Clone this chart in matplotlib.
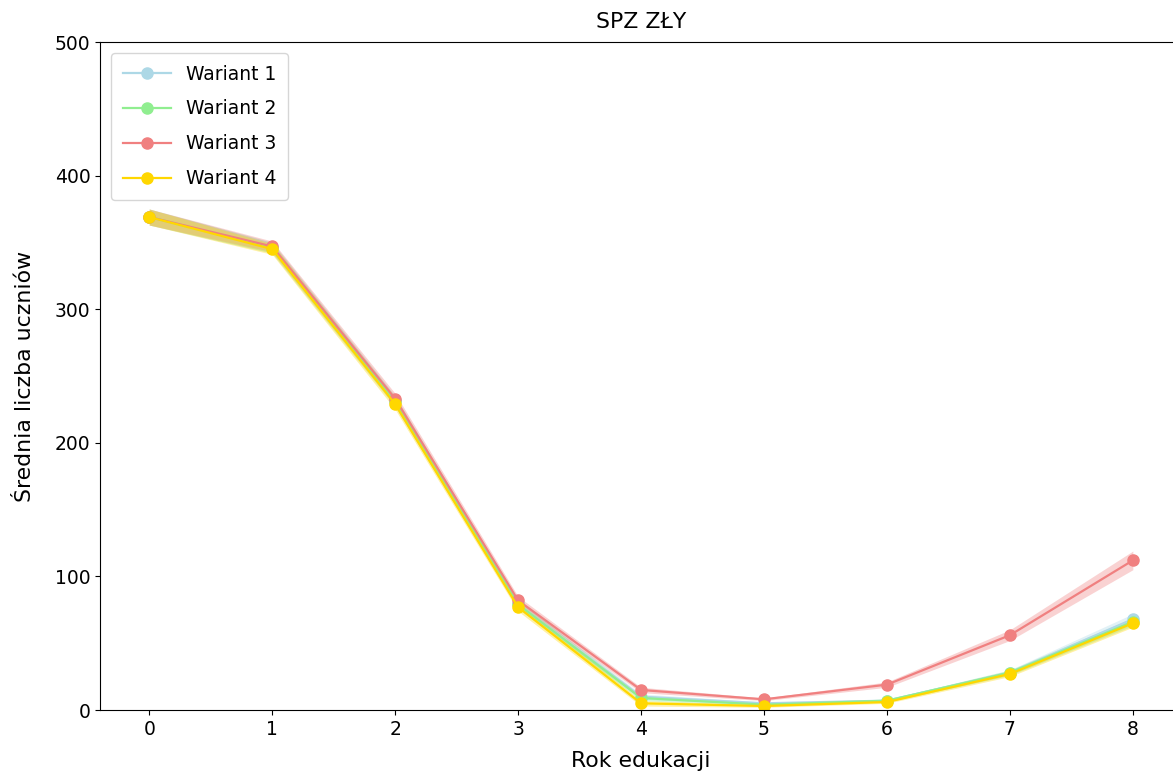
import matplotlib

matplotlib.use("Agg")

import matplotlib.pyplot as plt
import numpy as np

# Rok edukacji
years = [0, 1, 2, 3, 4, 5, 6, 7, 8]

# mean number of students per variant
wariant_1 = [369, 346, 231, 79, 10, 5, 7, 28, 68]
wariant_2 = [369, 346, 231, 79, 9, 4, 7, 28, 66]
wariant_3 = [369, 347, 233, 82, 15, 8, 19, 56, 112]
wariant_4 = [369, 345, 229, 77, 5, 3, 6, 27, 65]

# half-width of the shaded band around each mean
spread_1 = [6, 4, 4, 3, 2, 1, 1, 2, 4]
spread_2 = [6, 4, 4, 3, 2, 1, 1, 2, 3]
spread_3 = [6, 4, 4, 3, 2, 1, 2, 4, 7]
spread_4 = [6, 4, 4, 3, 2, 1, 1, 2, 3]

names = ["Wariant 1", "Wariant 2", "Wariant 3", "Wariant 4"]
colors = ["lightblue", "lightgreen", "lightcoral", "gold"]

fig = plt.figure(figsize=(11.73, 7.78), dpi=100)
ax = fig.add_axes([0.0853, 0.0874, 0.9224, 0.8586])

series = zip(names, colors, [wariant_1, wariant_2, wariant_3, wariant_4],
             [spread_1, spread_2, spread_3, spread_4])
for name, color, mean, spread in series:
    m = np.array(mean, dtype=float)
    s = np.array(spread, dtype=float)
    ax.fill_between(years, m - s, m + s, color=color, alpha=0.35, linewidth=0)
    ax.plot(years, m, marker="o", color=color, linewidth=1.6, markersize=8, label=name)

ax.set_xlim(-0.4, 8.4)
ax.set_ylim(0, 500)
ax.set_xticks(years)
ax.set_yticks([0, 100, 200, 300, 400, 500])
ax.tick_params(labelsize=13.5)
ax.set_xlabel("Rok edukacji", fontsize=15.8, labelpad=9)
ax.set_ylabel("Średnia liczba uczniów", fontsize=15.8, labelpad=14)
ax.set_title("SPZ ZŁY", fontsize=15.8, pad=10)
ax.legend(loc="upper left", fontsize=13.5, labelspacing=0.85, handlelength=2.6,
          borderpad=0.6, borderaxespad=0.6)

fig.savefig("out.png", dpi=100)
